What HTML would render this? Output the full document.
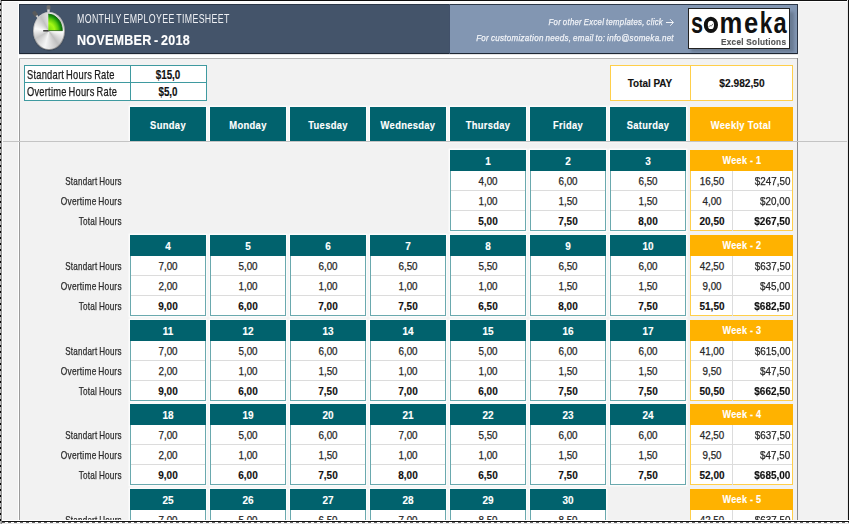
<!DOCTYPE html>
<html><head><meta charset="utf-8"><style>
html,body{margin:0;padding:0;}
body{width:849px;height:524px;overflow:hidden;position:relative;background:#f2f2f2;font-family:"Liberation Sans",sans-serif;}
div{position:absolute;}
.t{white-space:nowrap;line-height:1;}
</style></head><body>
<div style="left:18px;top:2px;width:1px;height:519px;background:#fff"></div>
<div style="left:18px;top:2px;width:781px;height:2px;background:#fafafa"></div>
<div style="left:19px;top:58px;width:1px;height:463px;background:#9a9a9a"></div>
<div style="left:19px;top:58px;width:779px;height:1px;background:#b4b4b4"></div>
<div style="left:19px;top:54px;width:779px;height:4px;background:#fff"></div>
<div style="left:797px;top:58px;width:1px;height:463px;background:#8c8c8c"></div>
<div style="left:19px;top:4px;width:431px;height:50px;background:#44546a"></div>
<div style="left:450px;top:4px;width:348px;height:50px;background:#8296b2"></div>
<div style="left:19px;top:4px;width:779px;height:1px;background:#2c3848"></div>
<div style="left:19px;top:53px;width:779px;height:1px;background:#1d2633"></div>
<div style="left:19px;top:4px;width:1px;height:50px;background:#2c3848"></div>
<div style="left:449px;top:4px;width:1px;height:50px;background:#42516a"></div>
<div style="left:797px;top:4px;width:1px;height:50px;background:#2a3444"></div>
<div style="left:19px;top:54px;width:779px;height:1px;background:#e4e4e4"></div>
<svg style="position:absolute;left:28px;top:4px" width="42" height="48" viewBox="0 0 42 48">
<rect x="18.6" y="1.2" width="3.8" height="5" rx="1.2" fill="#6e6e6e"/>
<rect x="19.3" y="5.5" width="2.4" height="4.5" fill="#d8d8d8"/>
<g transform="rotate(-38 8.5 11.5)"><rect x="6.6" y="6.5" width="3.8" height="5.5" rx="1" fill="#5a5a5a"/><rect x="7.5" y="11.5" width="2" height="3.5" fill="#cfcfcf"/></g>
</svg>
<div style="left:32.5px;top:11.5px;width:32px;height:38.5px;border-radius:50%;background:linear-gradient(160deg,#d4d4d4,#858585);box-shadow:0 0.5px 1px rgba(0,0,0,0.4)"></div>
<div style="left:33.5px;top:12.5px;width:30px;height:36.5px;border-radius:50%;background:conic-gradient(from 10deg,#f2f2f2,#c4c4c4 40deg,#fbfbfb 85deg,#bfbfbf 135deg,#f5f5f5 185deg,#c6c6c6 230deg,#fafafa 270deg,#c2c2c2 320deg,#f2f2f2)"></div>
<svg style="position:absolute;left:28px;top:4px" width="42" height="48" viewBox="0 0 42 48">
<defs>
<radialGradient id="gr" cx="0" cy="1" r="1"><stop offset="0" stop-color="#6fd80e"/><stop offset="0.45" stop-color="#a4f814"/><stop offset="0.72" stop-color="#58c80c"/><stop offset="0.86" stop-color="#1f9a0a"/><stop offset="1" stop-color="#0c6a06"/></radialGradient>
</defs>
<path d="M20.3 26.8 L20.3 10 A14 16.8 0 0 1 34.3 26.8 Z" fill="url(#gr)"/>
<path d="M20.3 10 A14 16.8 0 0 1 34.3 26.8" fill="none" stroke="#0f6a08" stroke-width="0.8"/>
<line x1="15.2" y1="26.8" x2="20.6" y2="26.8" stroke="#333" stroke-width="1.5"/>
<line x1="20.6" y1="26.6" x2="34.3" y2="26.6" stroke="#2a5a20" stroke-width="0.8"/>
</svg>
<div class="t" style="left:77.00px;transform:scaleX(0.7098);transform-origin:left;top:12.70px;font-size:12.4px;font-weight:normal;font-style:normal;color:#eef0f4;-webkit-text-stroke:0.25px #eef0f4;-webkit-text-stroke:0;letter-spacing:0.5px;word-spacing:-1.5px;">MONTHLY EMPLOYEE TIMESHEET</div>
<div class="t" style="left:77.00px;transform:scaleX(0.8101);transform-origin:left;top:31.88px;font-size:15.5px;font-weight:bold;font-style:normal;color:#ffffff;-webkit-text-stroke:0.15px #ffffff;letter-spacing:0.3px;word-spacing:-1.5px;">NOVEMBER - 2018</div>
<div class="t" style="right:186.00px;transform:scaleX(0.8174);transform-origin:right;top:17.46px;font-size:9.5px;font-weight:normal;font-style:italic;color:#f2f4f8;-webkit-text-stroke:0.25px #f2f4f8;letter-spacing:0.35px;word-spacing:-0.8px;">For other Excel templates, click</div>
<svg style="position:absolute;left:665px;top:18px" width="10" height="9" viewBox="0 0 10 9"><path d="M1 4.5 H8.3 M5.2 1.3 L8.4 4.5 L5.2 7.7" fill="none" stroke="#f2f4f8" stroke-width="1"/></svg>
<div class="t" style="right:175.60px;transform:scaleX(0.8417);transform-origin:right;top:33.26px;font-size:9.5px;font-weight:normal;font-style:italic;color:#f2f4f8;-webkit-text-stroke:0.25px #f2f4f8;letter-spacing:0.35px;word-spacing:-0.8px;">For customization needs, email to: info@someka.net</div>
<div style="left:691px;top:12px;width:103px;height:40px;background:rgba(40,50,70,0.28);filter:blur(1.5px)"></div>
<div style="left:688px;top:8px;width:102px;height:41px;background:#fff;border:1px solid #222;box-sizing:border-box"></div>
<div class="t" style="left:696.90px;transform:translateX(-50%) scaleX(0.7329);transform-origin:center;top:7.63px;font-size:29.5px;font-weight:bold;font-style:normal;color:#111;-webkit-text-stroke:0.15px #111;-webkit-text-stroke:0;">s</div>
<div class="t" style="left:731.40px;transform:translateX(-50%) scaleX(0.8684);transform-origin:center;top:7.63px;font-size:29.5px;font-weight:bold;font-style:normal;color:#111;-webkit-text-stroke:0.15px #111;-webkit-text-stroke:0;">m</div>
<div class="t" style="left:751.15px;transform:translateX(-50%) scaleX(0.8673);transform-origin:center;top:7.63px;font-size:29.5px;font-weight:bold;font-style:normal;color:#111;-webkit-text-stroke:0.15px #111;-webkit-text-stroke:0;">e</div>
<div class="t" style="left:766.40px;transform:translateX(-50%) scaleX(0.7627);transform-origin:center;top:7.63px;font-size:29.5px;font-weight:bold;font-style:normal;color:#111;-webkit-text-stroke:0.15px #111;-webkit-text-stroke:0;">k</div>
<div class="t" style="left:780.10px;transform:translateX(-50%) scaleX(0.8040);transform-origin:center;top:7.63px;font-size:29.5px;font-weight:bold;font-style:normal;color:#111;-webkit-text-stroke:0.15px #111;-webkit-text-stroke:0;">a</div>
<svg style="position:absolute;left:702px;top:15px" width="18" height="20" viewBox="0 0 18 20"><ellipse cx="8.9" cy="9.9" rx="5.1" ry="6.2" fill="#fff" stroke="#111" stroke-width="4"/><path d="M6.6 12 L8.2 10.4 L9.2 11.2 L11 8.8" fill="none" stroke="#777" stroke-width="1"/></svg>
<div class="t" style="right:62.70px;transform:scaleX(0.8680);transform-origin:right;top:36.56px;font-size:9.5px;font-weight:bold;font-style:normal;color:#555;-webkit-text-stroke:0.15px #555;letter-spacing:0.3px">Excel Solutions</div>
<div style="left:24px;top:65px;width:183px;height:36px;background:#fff;border:1px solid #3f9aa0;box-sizing:border-box"></div>
<div style="left:24px;top:82px;width:183px;height:1px;background:#3f9aa0"></div>
<div style="left:130px;top:65px;width:1px;height:36px;background:#3f9aa0"></div>
<div class="t" style="left:27.00px;transform:scaleX(0.7644);transform-origin:left;top:68.97px;font-size:12.2px;font-weight:normal;font-style:normal;color:#1a1a1a;-webkit-text-stroke:0.25px #1a1a1a;letter-spacing:0.3px;word-spacing:-1px;">Standart Hours Rate</div>
<div class="t" style="left:27.00px;transform:scaleX(0.7630);transform-origin:left;top:86.27px;font-size:12.2px;font-weight:normal;font-style:normal;color:#1a1a1a;-webkit-text-stroke:0.25px #1a1a1a;letter-spacing:0.3px;word-spacing:-1px;">Overtime Hours Rate</div>
<div class="t" style="left:168.20px;transform:translateX(-50%) scaleX(0.7888);transform-origin:center;top:68.52px;font-size:12.5px;font-weight:bold;font-style:normal;color:#111;-webkit-text-stroke:0.15px #111;">$15,0</div>
<div class="t" style="left:168.20px;transform:translateX(-50%) scaleX(0.7856);transform-origin:center;top:86.02px;font-size:12.5px;font-weight:bold;font-style:normal;color:#111;-webkit-text-stroke:0.15px #111;">$5,0</div>
<div style="left:610px;top:65px;width:183px;height:36px;background:#fff;border:1px solid #ffcf4a;box-sizing:border-box"></div>
<div style="left:690px;top:65px;width:1px;height:36px;background:#ffcf4a"></div>
<div class="t" style="left:650.30px;transform:translateX(-50%) scaleX(0.8628);transform-origin:center;top:77.97px;font-size:11.5px;font-weight:bold;font-style:normal;color:#111;-webkit-text-stroke:0.15px #111;">Total PAY</div>
<div class="t" style="left:741.90px;transform:translateX(-50%) scaleX(0.8852);transform-origin:center;top:77.97px;font-size:11.5px;font-weight:bold;font-style:normal;color:#111;-webkit-text-stroke:0.15px #111;">$2.982,50</div>
<div style="left:130px;top:107px;width:76px;height:34px;background:#01626d;box-shadow:0 0 0 1.5px rgba(255,255,255,0.75)"></div>
<div class="t" style="left:168.00px;transform:translateX(-50%) scaleX(0.8157);transform-origin:center;top:120.47px;font-size:11.5px;font-weight:bold;font-style:normal;color:#fff;-webkit-text-stroke:0.15px #fff;letter-spacing:0.4px;">Sunday</div>
<div style="left:210px;top:107px;width:76px;height:34px;background:#01626d;box-shadow:0 0 0 1.5px rgba(255,255,255,0.75)"></div>
<div class="t" style="left:248.00px;transform:translateX(-50%) scaleX(0.8174);transform-origin:center;top:120.47px;font-size:11.5px;font-weight:bold;font-style:normal;color:#fff;-webkit-text-stroke:0.15px #fff;letter-spacing:0.4px;">Monday</div>
<div style="left:290px;top:107px;width:76px;height:34px;background:#01626d;box-shadow:0 0 0 1.5px rgba(255,255,255,0.75)"></div>
<div class="t" style="left:328.00px;transform:translateX(-50%) scaleX(0.8125);transform-origin:center;top:120.47px;font-size:11.5px;font-weight:bold;font-style:normal;color:#fff;-webkit-text-stroke:0.15px #fff;letter-spacing:0.4px;">Tuesday</div>
<div style="left:370px;top:107px;width:76px;height:34px;background:#01626d;box-shadow:0 0 0 1.5px rgba(255,255,255,0.75)"></div>
<div class="t" style="left:408.00px;transform:translateX(-50%) scaleX(0.8141);transform-origin:center;top:120.47px;font-size:11.5px;font-weight:bold;font-style:normal;color:#fff;-webkit-text-stroke:0.15px #fff;letter-spacing:0.4px;">Wednesday</div>
<div style="left:450px;top:107px;width:76px;height:34px;background:#01626d;box-shadow:0 0 0 1.5px rgba(255,255,255,0.75)"></div>
<div class="t" style="left:488.00px;transform:translateX(-50%) scaleX(0.8111);transform-origin:center;top:120.47px;font-size:11.5px;font-weight:bold;font-style:normal;color:#fff;-webkit-text-stroke:0.15px #fff;letter-spacing:0.4px;">Thursday</div>
<div style="left:530px;top:107px;width:76px;height:34px;background:#01626d;box-shadow:0 0 0 1.5px rgba(255,255,255,0.75)"></div>
<div class="t" style="left:568.00px;transform:translateX(-50%) scaleX(0.8082);transform-origin:center;top:120.47px;font-size:11.5px;font-weight:bold;font-style:normal;color:#fff;-webkit-text-stroke:0.15px #fff;letter-spacing:0.4px;">Friday</div>
<div style="left:610px;top:107px;width:76px;height:34px;background:#01626d;box-shadow:0 0 0 1.5px rgba(255,255,255,0.75)"></div>
<div class="t" style="left:648.00px;transform:translateX(-50%) scaleX(0.8090);transform-origin:center;top:120.47px;font-size:11.5px;font-weight:bold;font-style:normal;color:#fff;-webkit-text-stroke:0.15px #fff;letter-spacing:0.4px;">Saturday</div>
<div style="left:690px;top:107px;width:103px;height:34px;background:#ffb200"></div>
<div class="t" style="left:741.40px;transform:translateX(-50%) scaleX(0.8149);transform-origin:center;top:120.47px;font-size:11.5px;font-weight:bold;font-style:normal;color:#fff;-webkit-text-stroke:0.15px #fff;letter-spacing:0.4px;">Weekly Total</div>
<div class="t" style="right:726.80px;transform:scaleX(0.7467);transform-origin:right;top:175.86px;font-size:10.8px;font-weight:normal;font-style:normal;color:#2a2a2a;-webkit-text-stroke:0.25px #2a2a2a;letter-spacing:0.3px;word-spacing:-1px;">Standart Hours</div>
<div class="t" style="right:726.80px;transform:scaleX(0.7745);transform-origin:right;top:195.86px;font-size:10.8px;font-weight:normal;font-style:normal;color:#2a2a2a;-webkit-text-stroke:0.25px #2a2a2a;letter-spacing:0.3px;word-spacing:-1px;">Overtime Hours</div>
<div class="t" style="right:726.80px;transform:scaleX(0.7591);transform-origin:right;top:215.86px;font-size:10.8px;font-weight:normal;font-style:normal;color:#2a2a2a;-webkit-text-stroke:0.25px #2a2a2a;letter-spacing:0.3px;word-spacing:-1px;">Total Hours</div>
<div style="left:450px;top:150px;width:76px;height:81px;background:#fff;box-shadow:0 0 0 1.5px rgba(255,255,255,0.75)"></div>
<div style="left:450px;top:150px;width:76px;height:21px;background:#01626d"></div>
<div style="left:450px;top:171px;width:76px;height:60px;background:#fff;border:1px solid #6aa9ae;border-top:0;box-sizing:border-box"></div>
<div style="left:451px;top:190px;width:74px;height:1px;background:#dcdcdc"></div>
<div style="left:451px;top:210px;width:74px;height:1px;background:#dcdcdc"></div>
<div class="t" style="left:488.00px;transform:translateX(-50%) scaleX(0.8900);transform-origin:center;top:155.52px;font-size:11.2px;font-weight:bold;font-style:normal;color:#fff;-webkit-text-stroke:0.15px #fff;">1</div>
<div class="t" style="left:488.00px;transform:translateX(-50%) scaleX(0.8800);transform-origin:center;top:175.52px;font-size:11.2px;font-weight:normal;font-style:normal;color:#262626;-webkit-text-stroke:0.25px #262626;">4,00</div>
<div class="t" style="left:488.00px;transform:translateX(-50%) scaleX(0.8800);transform-origin:center;top:195.52px;font-size:11.2px;font-weight:normal;font-style:normal;color:#262626;-webkit-text-stroke:0.25px #262626;">1,00</div>
<div class="t" style="left:488.00px;transform:translateX(-50%) scaleX(0.8950);transform-origin:center;top:215.52px;font-size:11.2px;font-weight:bold;font-style:normal;color:#111;-webkit-text-stroke:0.15px #111;">5,00</div>
<div style="left:530px;top:150px;width:76px;height:81px;background:#fff;box-shadow:0 0 0 1.5px rgba(255,255,255,0.75)"></div>
<div style="left:530px;top:150px;width:76px;height:21px;background:#01626d"></div>
<div style="left:530px;top:171px;width:76px;height:60px;background:#fff;border:1px solid #6aa9ae;border-top:0;box-sizing:border-box"></div>
<div style="left:531px;top:190px;width:74px;height:1px;background:#dcdcdc"></div>
<div style="left:531px;top:210px;width:74px;height:1px;background:#dcdcdc"></div>
<div class="t" style="left:568.00px;transform:translateX(-50%) scaleX(0.8900);transform-origin:center;top:155.52px;font-size:11.2px;font-weight:bold;font-style:normal;color:#fff;-webkit-text-stroke:0.15px #fff;">2</div>
<div class="t" style="left:568.00px;transform:translateX(-50%) scaleX(0.8800);transform-origin:center;top:175.52px;font-size:11.2px;font-weight:normal;font-style:normal;color:#262626;-webkit-text-stroke:0.25px #262626;">6,00</div>
<div class="t" style="left:568.00px;transform:translateX(-50%) scaleX(0.8800);transform-origin:center;top:195.52px;font-size:11.2px;font-weight:normal;font-style:normal;color:#262626;-webkit-text-stroke:0.25px #262626;">1,50</div>
<div class="t" style="left:568.00px;transform:translateX(-50%) scaleX(0.8950);transform-origin:center;top:215.52px;font-size:11.2px;font-weight:bold;font-style:normal;color:#111;-webkit-text-stroke:0.15px #111;">7,50</div>
<div style="left:610px;top:150px;width:76px;height:81px;background:#fff;box-shadow:0 0 0 1.5px rgba(255,255,255,0.75)"></div>
<div style="left:610px;top:150px;width:76px;height:21px;background:#01626d"></div>
<div style="left:610px;top:171px;width:76px;height:60px;background:#fff;border:1px solid #6aa9ae;border-top:0;box-sizing:border-box"></div>
<div style="left:611px;top:190px;width:74px;height:1px;background:#dcdcdc"></div>
<div style="left:611px;top:210px;width:74px;height:1px;background:#dcdcdc"></div>
<div class="t" style="left:648.00px;transform:translateX(-50%) scaleX(0.8900);transform-origin:center;top:155.52px;font-size:11.2px;font-weight:bold;font-style:normal;color:#fff;-webkit-text-stroke:0.15px #fff;">3</div>
<div class="t" style="left:648.00px;transform:translateX(-50%) scaleX(0.8800);transform-origin:center;top:175.52px;font-size:11.2px;font-weight:normal;font-style:normal;color:#262626;-webkit-text-stroke:0.25px #262626;">6,50</div>
<div class="t" style="left:648.00px;transform:translateX(-50%) scaleX(0.8800);transform-origin:center;top:195.52px;font-size:11.2px;font-weight:normal;font-style:normal;color:#262626;-webkit-text-stroke:0.25px #262626;">1,50</div>
<div class="t" style="left:648.00px;transform:translateX(-50%) scaleX(0.8950);transform-origin:center;top:215.52px;font-size:11.2px;font-weight:bold;font-style:normal;color:#111;-webkit-text-stroke:0.15px #111;">8,00</div>
<div style="left:690px;top:150px;width:103px;height:21px;background:#ffb200"></div>
<div style="left:690px;top:171px;width:103px;height:60px;background:#fff;border:1px solid #ffcf4a;border-top:0;box-sizing:border-box"></div>
<div style="left:691px;top:190px;width:101px;height:1px;background:#dcdcdc"></div>
<div style="left:691px;top:210px;width:101px;height:1px;background:#dcdcdc"></div>
<div style="left:732px;top:171px;width:1px;height:60px;background:#dcdcdc"></div>
<div class="t" style="left:741.70px;transform:translateX(-50%) scaleX(0.8152);transform-origin:center;top:154.82px;font-size:11.2px;font-weight:bold;font-style:normal;color:#fff;-webkit-text-stroke:0.15px #fff;letter-spacing:0.3px;">Week - 1</div>
<div class="t" style="left:711.50px;transform:translateX(-50%) scaleX(0.8800);transform-origin:center;top:175.52px;font-size:11.2px;font-weight:normal;font-style:normal;color:#262626;-webkit-text-stroke:0.25px #262626;">16,50</div>
<div class="t" style="right:58.70px;transform:scaleX(0.8800);transform-origin:right;top:175.52px;font-size:11.2px;font-weight:normal;font-style:normal;color:#262626;-webkit-text-stroke:0.25px #262626;">$247,50</div>
<div class="t" style="left:711.50px;transform:translateX(-50%) scaleX(0.8800);transform-origin:center;top:195.52px;font-size:11.2px;font-weight:normal;font-style:normal;color:#262626;-webkit-text-stroke:0.25px #262626;">4,00</div>
<div class="t" style="right:58.70px;transform:scaleX(0.8800);transform-origin:right;top:195.52px;font-size:11.2px;font-weight:normal;font-style:normal;color:#262626;-webkit-text-stroke:0.25px #262626;">$20,00</div>
<div class="t" style="left:711.50px;transform:translateX(-50%) scaleX(0.8950);transform-origin:center;top:215.52px;font-size:11.2px;font-weight:bold;font-style:normal;color:#111;-webkit-text-stroke:0.15px #111;">20,50</div>
<div class="t" style="right:58.70px;transform:scaleX(0.8950);transform-origin:right;top:215.52px;font-size:11.2px;font-weight:bold;font-style:normal;color:#111;-webkit-text-stroke:0.15px #111;">$267,50</div>
<div class="t" style="right:726.80px;transform:scaleX(0.7467);transform-origin:right;top:260.86px;font-size:10.8px;font-weight:normal;font-style:normal;color:#2a2a2a;-webkit-text-stroke:0.25px #2a2a2a;letter-spacing:0.3px;word-spacing:-1px;">Standart Hours</div>
<div class="t" style="right:726.80px;transform:scaleX(0.7745);transform-origin:right;top:280.86px;font-size:10.8px;font-weight:normal;font-style:normal;color:#2a2a2a;-webkit-text-stroke:0.25px #2a2a2a;letter-spacing:0.3px;word-spacing:-1px;">Overtime Hours</div>
<div class="t" style="right:726.80px;transform:scaleX(0.7591);transform-origin:right;top:300.86px;font-size:10.8px;font-weight:normal;font-style:normal;color:#2a2a2a;-webkit-text-stroke:0.25px #2a2a2a;letter-spacing:0.3px;word-spacing:-1px;">Total Hours</div>
<div style="left:130px;top:235px;width:76px;height:81px;background:#fff;box-shadow:0 0 0 1.5px rgba(255,255,255,0.75)"></div>
<div style="left:130px;top:235px;width:76px;height:21px;background:#01626d"></div>
<div style="left:130px;top:256px;width:76px;height:60px;background:#fff;border:1px solid #6aa9ae;border-top:0;box-sizing:border-box"></div>
<div style="left:131px;top:275px;width:74px;height:1px;background:#dcdcdc"></div>
<div style="left:131px;top:295px;width:74px;height:1px;background:#dcdcdc"></div>
<div class="t" style="left:168.00px;transform:translateX(-50%) scaleX(0.8900);transform-origin:center;top:240.52px;font-size:11.2px;font-weight:bold;font-style:normal;color:#fff;-webkit-text-stroke:0.15px #fff;">4</div>
<div class="t" style="left:168.00px;transform:translateX(-50%) scaleX(0.8800);transform-origin:center;top:260.52px;font-size:11.2px;font-weight:normal;font-style:normal;color:#262626;-webkit-text-stroke:0.25px #262626;">7,00</div>
<div class="t" style="left:168.00px;transform:translateX(-50%) scaleX(0.8800);transform-origin:center;top:280.52px;font-size:11.2px;font-weight:normal;font-style:normal;color:#262626;-webkit-text-stroke:0.25px #262626;">2,00</div>
<div class="t" style="left:168.00px;transform:translateX(-50%) scaleX(0.8950);transform-origin:center;top:300.52px;font-size:11.2px;font-weight:bold;font-style:normal;color:#111;-webkit-text-stroke:0.15px #111;">9,00</div>
<div style="left:210px;top:235px;width:76px;height:81px;background:#fff;box-shadow:0 0 0 1.5px rgba(255,255,255,0.75)"></div>
<div style="left:210px;top:235px;width:76px;height:21px;background:#01626d"></div>
<div style="left:210px;top:256px;width:76px;height:60px;background:#fff;border:1px solid #6aa9ae;border-top:0;box-sizing:border-box"></div>
<div style="left:211px;top:275px;width:74px;height:1px;background:#dcdcdc"></div>
<div style="left:211px;top:295px;width:74px;height:1px;background:#dcdcdc"></div>
<div class="t" style="left:248.00px;transform:translateX(-50%) scaleX(0.8900);transform-origin:center;top:240.52px;font-size:11.2px;font-weight:bold;font-style:normal;color:#fff;-webkit-text-stroke:0.15px #fff;">5</div>
<div class="t" style="left:248.00px;transform:translateX(-50%) scaleX(0.8800);transform-origin:center;top:260.52px;font-size:11.2px;font-weight:normal;font-style:normal;color:#262626;-webkit-text-stroke:0.25px #262626;">5,00</div>
<div class="t" style="left:248.00px;transform:translateX(-50%) scaleX(0.8800);transform-origin:center;top:280.52px;font-size:11.2px;font-weight:normal;font-style:normal;color:#262626;-webkit-text-stroke:0.25px #262626;">1,00</div>
<div class="t" style="left:248.00px;transform:translateX(-50%) scaleX(0.8950);transform-origin:center;top:300.52px;font-size:11.2px;font-weight:bold;font-style:normal;color:#111;-webkit-text-stroke:0.15px #111;">6,00</div>
<div style="left:290px;top:235px;width:76px;height:81px;background:#fff;box-shadow:0 0 0 1.5px rgba(255,255,255,0.75)"></div>
<div style="left:290px;top:235px;width:76px;height:21px;background:#01626d"></div>
<div style="left:290px;top:256px;width:76px;height:60px;background:#fff;border:1px solid #6aa9ae;border-top:0;box-sizing:border-box"></div>
<div style="left:291px;top:275px;width:74px;height:1px;background:#dcdcdc"></div>
<div style="left:291px;top:295px;width:74px;height:1px;background:#dcdcdc"></div>
<div class="t" style="left:328.00px;transform:translateX(-50%) scaleX(0.8900);transform-origin:center;top:240.52px;font-size:11.2px;font-weight:bold;font-style:normal;color:#fff;-webkit-text-stroke:0.15px #fff;">6</div>
<div class="t" style="left:328.00px;transform:translateX(-50%) scaleX(0.8800);transform-origin:center;top:260.52px;font-size:11.2px;font-weight:normal;font-style:normal;color:#262626;-webkit-text-stroke:0.25px #262626;">6,00</div>
<div class="t" style="left:328.00px;transform:translateX(-50%) scaleX(0.8800);transform-origin:center;top:280.52px;font-size:11.2px;font-weight:normal;font-style:normal;color:#262626;-webkit-text-stroke:0.25px #262626;">1,00</div>
<div class="t" style="left:328.00px;transform:translateX(-50%) scaleX(0.8950);transform-origin:center;top:300.52px;font-size:11.2px;font-weight:bold;font-style:normal;color:#111;-webkit-text-stroke:0.15px #111;">7,00</div>
<div style="left:370px;top:235px;width:76px;height:81px;background:#fff;box-shadow:0 0 0 1.5px rgba(255,255,255,0.75)"></div>
<div style="left:370px;top:235px;width:76px;height:21px;background:#01626d"></div>
<div style="left:370px;top:256px;width:76px;height:60px;background:#fff;border:1px solid #6aa9ae;border-top:0;box-sizing:border-box"></div>
<div style="left:371px;top:275px;width:74px;height:1px;background:#dcdcdc"></div>
<div style="left:371px;top:295px;width:74px;height:1px;background:#dcdcdc"></div>
<div class="t" style="left:408.00px;transform:translateX(-50%) scaleX(0.8900);transform-origin:center;top:240.52px;font-size:11.2px;font-weight:bold;font-style:normal;color:#fff;-webkit-text-stroke:0.15px #fff;">7</div>
<div class="t" style="left:408.00px;transform:translateX(-50%) scaleX(0.8800);transform-origin:center;top:260.52px;font-size:11.2px;font-weight:normal;font-style:normal;color:#262626;-webkit-text-stroke:0.25px #262626;">6,50</div>
<div class="t" style="left:408.00px;transform:translateX(-50%) scaleX(0.8800);transform-origin:center;top:280.52px;font-size:11.2px;font-weight:normal;font-style:normal;color:#262626;-webkit-text-stroke:0.25px #262626;">1,00</div>
<div class="t" style="left:408.00px;transform:translateX(-50%) scaleX(0.8950);transform-origin:center;top:300.52px;font-size:11.2px;font-weight:bold;font-style:normal;color:#111;-webkit-text-stroke:0.15px #111;">7,50</div>
<div style="left:450px;top:235px;width:76px;height:81px;background:#fff;box-shadow:0 0 0 1.5px rgba(255,255,255,0.75)"></div>
<div style="left:450px;top:235px;width:76px;height:21px;background:#01626d"></div>
<div style="left:450px;top:256px;width:76px;height:60px;background:#fff;border:1px solid #6aa9ae;border-top:0;box-sizing:border-box"></div>
<div style="left:451px;top:275px;width:74px;height:1px;background:#dcdcdc"></div>
<div style="left:451px;top:295px;width:74px;height:1px;background:#dcdcdc"></div>
<div class="t" style="left:488.00px;transform:translateX(-50%) scaleX(0.8900);transform-origin:center;top:240.52px;font-size:11.2px;font-weight:bold;font-style:normal;color:#fff;-webkit-text-stroke:0.15px #fff;">8</div>
<div class="t" style="left:488.00px;transform:translateX(-50%) scaleX(0.8800);transform-origin:center;top:260.52px;font-size:11.2px;font-weight:normal;font-style:normal;color:#262626;-webkit-text-stroke:0.25px #262626;">5,50</div>
<div class="t" style="left:488.00px;transform:translateX(-50%) scaleX(0.8800);transform-origin:center;top:280.52px;font-size:11.2px;font-weight:normal;font-style:normal;color:#262626;-webkit-text-stroke:0.25px #262626;">1,00</div>
<div class="t" style="left:488.00px;transform:translateX(-50%) scaleX(0.8950);transform-origin:center;top:300.52px;font-size:11.2px;font-weight:bold;font-style:normal;color:#111;-webkit-text-stroke:0.15px #111;">6,50</div>
<div style="left:530px;top:235px;width:76px;height:81px;background:#fff;box-shadow:0 0 0 1.5px rgba(255,255,255,0.75)"></div>
<div style="left:530px;top:235px;width:76px;height:21px;background:#01626d"></div>
<div style="left:530px;top:256px;width:76px;height:60px;background:#fff;border:1px solid #6aa9ae;border-top:0;box-sizing:border-box"></div>
<div style="left:531px;top:275px;width:74px;height:1px;background:#dcdcdc"></div>
<div style="left:531px;top:295px;width:74px;height:1px;background:#dcdcdc"></div>
<div class="t" style="left:568.00px;transform:translateX(-50%) scaleX(0.8900);transform-origin:center;top:240.52px;font-size:11.2px;font-weight:bold;font-style:normal;color:#fff;-webkit-text-stroke:0.15px #fff;">9</div>
<div class="t" style="left:568.00px;transform:translateX(-50%) scaleX(0.8800);transform-origin:center;top:260.52px;font-size:11.2px;font-weight:normal;font-style:normal;color:#262626;-webkit-text-stroke:0.25px #262626;">6,50</div>
<div class="t" style="left:568.00px;transform:translateX(-50%) scaleX(0.8800);transform-origin:center;top:280.52px;font-size:11.2px;font-weight:normal;font-style:normal;color:#262626;-webkit-text-stroke:0.25px #262626;">1,50</div>
<div class="t" style="left:568.00px;transform:translateX(-50%) scaleX(0.8950);transform-origin:center;top:300.52px;font-size:11.2px;font-weight:bold;font-style:normal;color:#111;-webkit-text-stroke:0.15px #111;">8,00</div>
<div style="left:610px;top:235px;width:76px;height:81px;background:#fff;box-shadow:0 0 0 1.5px rgba(255,255,255,0.75)"></div>
<div style="left:610px;top:235px;width:76px;height:21px;background:#01626d"></div>
<div style="left:610px;top:256px;width:76px;height:60px;background:#fff;border:1px solid #6aa9ae;border-top:0;box-sizing:border-box"></div>
<div style="left:611px;top:275px;width:74px;height:1px;background:#dcdcdc"></div>
<div style="left:611px;top:295px;width:74px;height:1px;background:#dcdcdc"></div>
<div class="t" style="left:648.00px;transform:translateX(-50%) scaleX(0.8900);transform-origin:center;top:240.52px;font-size:11.2px;font-weight:bold;font-style:normal;color:#fff;-webkit-text-stroke:0.15px #fff;">10</div>
<div class="t" style="left:648.00px;transform:translateX(-50%) scaleX(0.8800);transform-origin:center;top:260.52px;font-size:11.2px;font-weight:normal;font-style:normal;color:#262626;-webkit-text-stroke:0.25px #262626;">6,00</div>
<div class="t" style="left:648.00px;transform:translateX(-50%) scaleX(0.8800);transform-origin:center;top:280.52px;font-size:11.2px;font-weight:normal;font-style:normal;color:#262626;-webkit-text-stroke:0.25px #262626;">1,50</div>
<div class="t" style="left:648.00px;transform:translateX(-50%) scaleX(0.8950);transform-origin:center;top:300.52px;font-size:11.2px;font-weight:bold;font-style:normal;color:#111;-webkit-text-stroke:0.15px #111;">7,50</div>
<div style="left:690px;top:235px;width:103px;height:21px;background:#ffb200"></div>
<div style="left:690px;top:256px;width:103px;height:60px;background:#fff;border:1px solid #ffcf4a;border-top:0;box-sizing:border-box"></div>
<div style="left:691px;top:275px;width:101px;height:1px;background:#dcdcdc"></div>
<div style="left:691px;top:295px;width:101px;height:1px;background:#dcdcdc"></div>
<div style="left:732px;top:256px;width:1px;height:60px;background:#dcdcdc"></div>
<div class="t" style="left:741.70px;transform:translateX(-50%) scaleX(0.8152);transform-origin:center;top:239.82px;font-size:11.2px;font-weight:bold;font-style:normal;color:#fff;-webkit-text-stroke:0.15px #fff;letter-spacing:0.3px;">Week - 2</div>
<div class="t" style="left:711.50px;transform:translateX(-50%) scaleX(0.8800);transform-origin:center;top:260.52px;font-size:11.2px;font-weight:normal;font-style:normal;color:#262626;-webkit-text-stroke:0.25px #262626;">42,50</div>
<div class="t" style="right:58.70px;transform:scaleX(0.8800);transform-origin:right;top:260.52px;font-size:11.2px;font-weight:normal;font-style:normal;color:#262626;-webkit-text-stroke:0.25px #262626;">$637,50</div>
<div class="t" style="left:711.50px;transform:translateX(-50%) scaleX(0.8800);transform-origin:center;top:280.52px;font-size:11.2px;font-weight:normal;font-style:normal;color:#262626;-webkit-text-stroke:0.25px #262626;">9,00</div>
<div class="t" style="right:58.70px;transform:scaleX(0.8800);transform-origin:right;top:280.52px;font-size:11.2px;font-weight:normal;font-style:normal;color:#262626;-webkit-text-stroke:0.25px #262626;">$45,00</div>
<div class="t" style="left:711.50px;transform:translateX(-50%) scaleX(0.8950);transform-origin:center;top:300.52px;font-size:11.2px;font-weight:bold;font-style:normal;color:#111;-webkit-text-stroke:0.15px #111;">51,50</div>
<div class="t" style="right:58.70px;transform:scaleX(0.8950);transform-origin:right;top:300.52px;font-size:11.2px;font-weight:bold;font-style:normal;color:#111;-webkit-text-stroke:0.15px #111;">$682,50</div>
<div class="t" style="right:726.80px;transform:scaleX(0.7467);transform-origin:right;top:345.86px;font-size:10.8px;font-weight:normal;font-style:normal;color:#2a2a2a;-webkit-text-stroke:0.25px #2a2a2a;letter-spacing:0.3px;word-spacing:-1px;">Standart Hours</div>
<div class="t" style="right:726.80px;transform:scaleX(0.7745);transform-origin:right;top:365.86px;font-size:10.8px;font-weight:normal;font-style:normal;color:#2a2a2a;-webkit-text-stroke:0.25px #2a2a2a;letter-spacing:0.3px;word-spacing:-1px;">Overtime Hours</div>
<div class="t" style="right:726.80px;transform:scaleX(0.7591);transform-origin:right;top:385.86px;font-size:10.8px;font-weight:normal;font-style:normal;color:#2a2a2a;-webkit-text-stroke:0.25px #2a2a2a;letter-spacing:0.3px;word-spacing:-1px;">Total Hours</div>
<div style="left:130px;top:320px;width:76px;height:81px;background:#fff;box-shadow:0 0 0 1.5px rgba(255,255,255,0.75)"></div>
<div style="left:130px;top:320px;width:76px;height:21px;background:#01626d"></div>
<div style="left:130px;top:341px;width:76px;height:60px;background:#fff;border:1px solid #6aa9ae;border-top:0;box-sizing:border-box"></div>
<div style="left:131px;top:360px;width:74px;height:1px;background:#dcdcdc"></div>
<div style="left:131px;top:380px;width:74px;height:1px;background:#dcdcdc"></div>
<div class="t" style="left:168.00px;transform:translateX(-50%) scaleX(0.8900);transform-origin:center;top:325.52px;font-size:11.2px;font-weight:bold;font-style:normal;color:#fff;-webkit-text-stroke:0.15px #fff;">11</div>
<div class="t" style="left:168.00px;transform:translateX(-50%) scaleX(0.8800);transform-origin:center;top:345.52px;font-size:11.2px;font-weight:normal;font-style:normal;color:#262626;-webkit-text-stroke:0.25px #262626;">7,00</div>
<div class="t" style="left:168.00px;transform:translateX(-50%) scaleX(0.8800);transform-origin:center;top:365.52px;font-size:11.2px;font-weight:normal;font-style:normal;color:#262626;-webkit-text-stroke:0.25px #262626;">2,00</div>
<div class="t" style="left:168.00px;transform:translateX(-50%) scaleX(0.8950);transform-origin:center;top:385.52px;font-size:11.2px;font-weight:bold;font-style:normal;color:#111;-webkit-text-stroke:0.15px #111;">9,00</div>
<div style="left:210px;top:320px;width:76px;height:81px;background:#fff;box-shadow:0 0 0 1.5px rgba(255,255,255,0.75)"></div>
<div style="left:210px;top:320px;width:76px;height:21px;background:#01626d"></div>
<div style="left:210px;top:341px;width:76px;height:60px;background:#fff;border:1px solid #6aa9ae;border-top:0;box-sizing:border-box"></div>
<div style="left:211px;top:360px;width:74px;height:1px;background:#dcdcdc"></div>
<div style="left:211px;top:380px;width:74px;height:1px;background:#dcdcdc"></div>
<div class="t" style="left:248.00px;transform:translateX(-50%) scaleX(0.8900);transform-origin:center;top:325.52px;font-size:11.2px;font-weight:bold;font-style:normal;color:#fff;-webkit-text-stroke:0.15px #fff;">12</div>
<div class="t" style="left:248.00px;transform:translateX(-50%) scaleX(0.8800);transform-origin:center;top:345.52px;font-size:11.2px;font-weight:normal;font-style:normal;color:#262626;-webkit-text-stroke:0.25px #262626;">5,00</div>
<div class="t" style="left:248.00px;transform:translateX(-50%) scaleX(0.8800);transform-origin:center;top:365.52px;font-size:11.2px;font-weight:normal;font-style:normal;color:#262626;-webkit-text-stroke:0.25px #262626;">1,00</div>
<div class="t" style="left:248.00px;transform:translateX(-50%) scaleX(0.8950);transform-origin:center;top:385.52px;font-size:11.2px;font-weight:bold;font-style:normal;color:#111;-webkit-text-stroke:0.15px #111;">6,00</div>
<div style="left:290px;top:320px;width:76px;height:81px;background:#fff;box-shadow:0 0 0 1.5px rgba(255,255,255,0.75)"></div>
<div style="left:290px;top:320px;width:76px;height:21px;background:#01626d"></div>
<div style="left:290px;top:341px;width:76px;height:60px;background:#fff;border:1px solid #6aa9ae;border-top:0;box-sizing:border-box"></div>
<div style="left:291px;top:360px;width:74px;height:1px;background:#dcdcdc"></div>
<div style="left:291px;top:380px;width:74px;height:1px;background:#dcdcdc"></div>
<div class="t" style="left:328.00px;transform:translateX(-50%) scaleX(0.8900);transform-origin:center;top:325.52px;font-size:11.2px;font-weight:bold;font-style:normal;color:#fff;-webkit-text-stroke:0.15px #fff;">13</div>
<div class="t" style="left:328.00px;transform:translateX(-50%) scaleX(0.8800);transform-origin:center;top:345.52px;font-size:11.2px;font-weight:normal;font-style:normal;color:#262626;-webkit-text-stroke:0.25px #262626;">6,00</div>
<div class="t" style="left:328.00px;transform:translateX(-50%) scaleX(0.8800);transform-origin:center;top:365.52px;font-size:11.2px;font-weight:normal;font-style:normal;color:#262626;-webkit-text-stroke:0.25px #262626;">1,50</div>
<div class="t" style="left:328.00px;transform:translateX(-50%) scaleX(0.8950);transform-origin:center;top:385.52px;font-size:11.2px;font-weight:bold;font-style:normal;color:#111;-webkit-text-stroke:0.15px #111;">7,50</div>
<div style="left:370px;top:320px;width:76px;height:81px;background:#fff;box-shadow:0 0 0 1.5px rgba(255,255,255,0.75)"></div>
<div style="left:370px;top:320px;width:76px;height:21px;background:#01626d"></div>
<div style="left:370px;top:341px;width:76px;height:60px;background:#fff;border:1px solid #6aa9ae;border-top:0;box-sizing:border-box"></div>
<div style="left:371px;top:360px;width:74px;height:1px;background:#dcdcdc"></div>
<div style="left:371px;top:380px;width:74px;height:1px;background:#dcdcdc"></div>
<div class="t" style="left:408.00px;transform:translateX(-50%) scaleX(0.8900);transform-origin:center;top:325.52px;font-size:11.2px;font-weight:bold;font-style:normal;color:#fff;-webkit-text-stroke:0.15px #fff;">14</div>
<div class="t" style="left:408.00px;transform:translateX(-50%) scaleX(0.8800);transform-origin:center;top:345.52px;font-size:11.2px;font-weight:normal;font-style:normal;color:#262626;-webkit-text-stroke:0.25px #262626;">6,00</div>
<div class="t" style="left:408.00px;transform:translateX(-50%) scaleX(0.8800);transform-origin:center;top:365.52px;font-size:11.2px;font-weight:normal;font-style:normal;color:#262626;-webkit-text-stroke:0.25px #262626;">1,00</div>
<div class="t" style="left:408.00px;transform:translateX(-50%) scaleX(0.8950);transform-origin:center;top:385.52px;font-size:11.2px;font-weight:bold;font-style:normal;color:#111;-webkit-text-stroke:0.15px #111;">7,00</div>
<div style="left:450px;top:320px;width:76px;height:81px;background:#fff;box-shadow:0 0 0 1.5px rgba(255,255,255,0.75)"></div>
<div style="left:450px;top:320px;width:76px;height:21px;background:#01626d"></div>
<div style="left:450px;top:341px;width:76px;height:60px;background:#fff;border:1px solid #6aa9ae;border-top:0;box-sizing:border-box"></div>
<div style="left:451px;top:360px;width:74px;height:1px;background:#dcdcdc"></div>
<div style="left:451px;top:380px;width:74px;height:1px;background:#dcdcdc"></div>
<div class="t" style="left:488.00px;transform:translateX(-50%) scaleX(0.8900);transform-origin:center;top:325.52px;font-size:11.2px;font-weight:bold;font-style:normal;color:#fff;-webkit-text-stroke:0.15px #fff;">15</div>
<div class="t" style="left:488.00px;transform:translateX(-50%) scaleX(0.8800);transform-origin:center;top:345.52px;font-size:11.2px;font-weight:normal;font-style:normal;color:#262626;-webkit-text-stroke:0.25px #262626;">5,00</div>
<div class="t" style="left:488.00px;transform:translateX(-50%) scaleX(0.8800);transform-origin:center;top:365.52px;font-size:11.2px;font-weight:normal;font-style:normal;color:#262626;-webkit-text-stroke:0.25px #262626;">1,00</div>
<div class="t" style="left:488.00px;transform:translateX(-50%) scaleX(0.8950);transform-origin:center;top:385.52px;font-size:11.2px;font-weight:bold;font-style:normal;color:#111;-webkit-text-stroke:0.15px #111;">6,00</div>
<div style="left:530px;top:320px;width:76px;height:81px;background:#fff;box-shadow:0 0 0 1.5px rgba(255,255,255,0.75)"></div>
<div style="left:530px;top:320px;width:76px;height:21px;background:#01626d"></div>
<div style="left:530px;top:341px;width:76px;height:60px;background:#fff;border:1px solid #6aa9ae;border-top:0;box-sizing:border-box"></div>
<div style="left:531px;top:360px;width:74px;height:1px;background:#dcdcdc"></div>
<div style="left:531px;top:380px;width:74px;height:1px;background:#dcdcdc"></div>
<div class="t" style="left:568.00px;transform:translateX(-50%) scaleX(0.8900);transform-origin:center;top:325.52px;font-size:11.2px;font-weight:bold;font-style:normal;color:#fff;-webkit-text-stroke:0.15px #fff;">16</div>
<div class="t" style="left:568.00px;transform:translateX(-50%) scaleX(0.8800);transform-origin:center;top:345.52px;font-size:11.2px;font-weight:normal;font-style:normal;color:#262626;-webkit-text-stroke:0.25px #262626;">6,00</div>
<div class="t" style="left:568.00px;transform:translateX(-50%) scaleX(0.8800);transform-origin:center;top:365.52px;font-size:11.2px;font-weight:normal;font-style:normal;color:#262626;-webkit-text-stroke:0.25px #262626;">1,50</div>
<div class="t" style="left:568.00px;transform:translateX(-50%) scaleX(0.8950);transform-origin:center;top:385.52px;font-size:11.2px;font-weight:bold;font-style:normal;color:#111;-webkit-text-stroke:0.15px #111;">7,50</div>
<div style="left:610px;top:320px;width:76px;height:81px;background:#fff;box-shadow:0 0 0 1.5px rgba(255,255,255,0.75)"></div>
<div style="left:610px;top:320px;width:76px;height:21px;background:#01626d"></div>
<div style="left:610px;top:341px;width:76px;height:60px;background:#fff;border:1px solid #6aa9ae;border-top:0;box-sizing:border-box"></div>
<div style="left:611px;top:360px;width:74px;height:1px;background:#dcdcdc"></div>
<div style="left:611px;top:380px;width:74px;height:1px;background:#dcdcdc"></div>
<div class="t" style="left:648.00px;transform:translateX(-50%) scaleX(0.8900);transform-origin:center;top:325.52px;font-size:11.2px;font-weight:bold;font-style:normal;color:#fff;-webkit-text-stroke:0.15px #fff;">17</div>
<div class="t" style="left:648.00px;transform:translateX(-50%) scaleX(0.8800);transform-origin:center;top:345.52px;font-size:11.2px;font-weight:normal;font-style:normal;color:#262626;-webkit-text-stroke:0.25px #262626;">6,00</div>
<div class="t" style="left:648.00px;transform:translateX(-50%) scaleX(0.8800);transform-origin:center;top:365.52px;font-size:11.2px;font-weight:normal;font-style:normal;color:#262626;-webkit-text-stroke:0.25px #262626;">1,50</div>
<div class="t" style="left:648.00px;transform:translateX(-50%) scaleX(0.8950);transform-origin:center;top:385.52px;font-size:11.2px;font-weight:bold;font-style:normal;color:#111;-webkit-text-stroke:0.15px #111;">7,50</div>
<div style="left:690px;top:320px;width:103px;height:21px;background:#ffb200"></div>
<div style="left:690px;top:341px;width:103px;height:60px;background:#fff;border:1px solid #ffcf4a;border-top:0;box-sizing:border-box"></div>
<div style="left:691px;top:360px;width:101px;height:1px;background:#dcdcdc"></div>
<div style="left:691px;top:380px;width:101px;height:1px;background:#dcdcdc"></div>
<div style="left:732px;top:341px;width:1px;height:60px;background:#dcdcdc"></div>
<div class="t" style="left:741.70px;transform:translateX(-50%) scaleX(0.8152);transform-origin:center;top:324.82px;font-size:11.2px;font-weight:bold;font-style:normal;color:#fff;-webkit-text-stroke:0.15px #fff;letter-spacing:0.3px;">Week - 3</div>
<div class="t" style="left:711.50px;transform:translateX(-50%) scaleX(0.8800);transform-origin:center;top:345.52px;font-size:11.2px;font-weight:normal;font-style:normal;color:#262626;-webkit-text-stroke:0.25px #262626;">41,00</div>
<div class="t" style="right:58.70px;transform:scaleX(0.8800);transform-origin:right;top:345.52px;font-size:11.2px;font-weight:normal;font-style:normal;color:#262626;-webkit-text-stroke:0.25px #262626;">$615,00</div>
<div class="t" style="left:711.50px;transform:translateX(-50%) scaleX(0.8800);transform-origin:center;top:365.52px;font-size:11.2px;font-weight:normal;font-style:normal;color:#262626;-webkit-text-stroke:0.25px #262626;">9,50</div>
<div class="t" style="right:58.70px;transform:scaleX(0.8800);transform-origin:right;top:365.52px;font-size:11.2px;font-weight:normal;font-style:normal;color:#262626;-webkit-text-stroke:0.25px #262626;">$47,50</div>
<div class="t" style="left:711.50px;transform:translateX(-50%) scaleX(0.8950);transform-origin:center;top:385.52px;font-size:11.2px;font-weight:bold;font-style:normal;color:#111;-webkit-text-stroke:0.15px #111;">50,50</div>
<div class="t" style="right:58.70px;transform:scaleX(0.8950);transform-origin:right;top:385.52px;font-size:11.2px;font-weight:bold;font-style:normal;color:#111;-webkit-text-stroke:0.15px #111;">$662,50</div>
<div class="t" style="right:726.80px;transform:scaleX(0.7467);transform-origin:right;top:429.86px;font-size:10.8px;font-weight:normal;font-style:normal;color:#2a2a2a;-webkit-text-stroke:0.25px #2a2a2a;letter-spacing:0.3px;word-spacing:-1px;">Standart Hours</div>
<div class="t" style="right:726.80px;transform:scaleX(0.7745);transform-origin:right;top:449.86px;font-size:10.8px;font-weight:normal;font-style:normal;color:#2a2a2a;-webkit-text-stroke:0.25px #2a2a2a;letter-spacing:0.3px;word-spacing:-1px;">Overtime Hours</div>
<div class="t" style="right:726.80px;transform:scaleX(0.7591);transform-origin:right;top:469.86px;font-size:10.8px;font-weight:normal;font-style:normal;color:#2a2a2a;-webkit-text-stroke:0.25px #2a2a2a;letter-spacing:0.3px;word-spacing:-1px;">Total Hours</div>
<div style="left:130px;top:404px;width:76px;height:81px;background:#fff;box-shadow:0 0 0 1.5px rgba(255,255,255,0.75)"></div>
<div style="left:130px;top:404px;width:76px;height:21px;background:#01626d"></div>
<div style="left:130px;top:425px;width:76px;height:60px;background:#fff;border:1px solid #6aa9ae;border-top:0;box-sizing:border-box"></div>
<div style="left:131px;top:444px;width:74px;height:1px;background:#dcdcdc"></div>
<div style="left:131px;top:464px;width:74px;height:1px;background:#dcdcdc"></div>
<div class="t" style="left:168.00px;transform:translateX(-50%) scaleX(0.8900);transform-origin:center;top:409.52px;font-size:11.2px;font-weight:bold;font-style:normal;color:#fff;-webkit-text-stroke:0.15px #fff;">18</div>
<div class="t" style="left:168.00px;transform:translateX(-50%) scaleX(0.8800);transform-origin:center;top:429.52px;font-size:11.2px;font-weight:normal;font-style:normal;color:#262626;-webkit-text-stroke:0.25px #262626;">7,00</div>
<div class="t" style="left:168.00px;transform:translateX(-50%) scaleX(0.8800);transform-origin:center;top:449.52px;font-size:11.2px;font-weight:normal;font-style:normal;color:#262626;-webkit-text-stroke:0.25px #262626;">2,00</div>
<div class="t" style="left:168.00px;transform:translateX(-50%) scaleX(0.8950);transform-origin:center;top:469.52px;font-size:11.2px;font-weight:bold;font-style:normal;color:#111;-webkit-text-stroke:0.15px #111;">9,00</div>
<div style="left:210px;top:404px;width:76px;height:81px;background:#fff;box-shadow:0 0 0 1.5px rgba(255,255,255,0.75)"></div>
<div style="left:210px;top:404px;width:76px;height:21px;background:#01626d"></div>
<div style="left:210px;top:425px;width:76px;height:60px;background:#fff;border:1px solid #6aa9ae;border-top:0;box-sizing:border-box"></div>
<div style="left:211px;top:444px;width:74px;height:1px;background:#dcdcdc"></div>
<div style="left:211px;top:464px;width:74px;height:1px;background:#dcdcdc"></div>
<div class="t" style="left:248.00px;transform:translateX(-50%) scaleX(0.8900);transform-origin:center;top:409.52px;font-size:11.2px;font-weight:bold;font-style:normal;color:#fff;-webkit-text-stroke:0.15px #fff;">19</div>
<div class="t" style="left:248.00px;transform:translateX(-50%) scaleX(0.8800);transform-origin:center;top:429.52px;font-size:11.2px;font-weight:normal;font-style:normal;color:#262626;-webkit-text-stroke:0.25px #262626;">5,00</div>
<div class="t" style="left:248.00px;transform:translateX(-50%) scaleX(0.8800);transform-origin:center;top:449.52px;font-size:11.2px;font-weight:normal;font-style:normal;color:#262626;-webkit-text-stroke:0.25px #262626;">1,00</div>
<div class="t" style="left:248.00px;transform:translateX(-50%) scaleX(0.8950);transform-origin:center;top:469.52px;font-size:11.2px;font-weight:bold;font-style:normal;color:#111;-webkit-text-stroke:0.15px #111;">6,00</div>
<div style="left:290px;top:404px;width:76px;height:81px;background:#fff;box-shadow:0 0 0 1.5px rgba(255,255,255,0.75)"></div>
<div style="left:290px;top:404px;width:76px;height:21px;background:#01626d"></div>
<div style="left:290px;top:425px;width:76px;height:60px;background:#fff;border:1px solid #6aa9ae;border-top:0;box-sizing:border-box"></div>
<div style="left:291px;top:444px;width:74px;height:1px;background:#dcdcdc"></div>
<div style="left:291px;top:464px;width:74px;height:1px;background:#dcdcdc"></div>
<div class="t" style="left:328.00px;transform:translateX(-50%) scaleX(0.8900);transform-origin:center;top:409.52px;font-size:11.2px;font-weight:bold;font-style:normal;color:#fff;-webkit-text-stroke:0.15px #fff;">20</div>
<div class="t" style="left:328.00px;transform:translateX(-50%) scaleX(0.8800);transform-origin:center;top:429.52px;font-size:11.2px;font-weight:normal;font-style:normal;color:#262626;-webkit-text-stroke:0.25px #262626;">6,00</div>
<div class="t" style="left:328.00px;transform:translateX(-50%) scaleX(0.8800);transform-origin:center;top:449.52px;font-size:11.2px;font-weight:normal;font-style:normal;color:#262626;-webkit-text-stroke:0.25px #262626;">1,50</div>
<div class="t" style="left:328.00px;transform:translateX(-50%) scaleX(0.8950);transform-origin:center;top:469.52px;font-size:11.2px;font-weight:bold;font-style:normal;color:#111;-webkit-text-stroke:0.15px #111;">7,50</div>
<div style="left:370px;top:404px;width:76px;height:81px;background:#fff;box-shadow:0 0 0 1.5px rgba(255,255,255,0.75)"></div>
<div style="left:370px;top:404px;width:76px;height:21px;background:#01626d"></div>
<div style="left:370px;top:425px;width:76px;height:60px;background:#fff;border:1px solid #6aa9ae;border-top:0;box-sizing:border-box"></div>
<div style="left:371px;top:444px;width:74px;height:1px;background:#dcdcdc"></div>
<div style="left:371px;top:464px;width:74px;height:1px;background:#dcdcdc"></div>
<div class="t" style="left:408.00px;transform:translateX(-50%) scaleX(0.8900);transform-origin:center;top:409.52px;font-size:11.2px;font-weight:bold;font-style:normal;color:#fff;-webkit-text-stroke:0.15px #fff;">21</div>
<div class="t" style="left:408.00px;transform:translateX(-50%) scaleX(0.8800);transform-origin:center;top:429.52px;font-size:11.2px;font-weight:normal;font-style:normal;color:#262626;-webkit-text-stroke:0.25px #262626;">7,00</div>
<div class="t" style="left:408.00px;transform:translateX(-50%) scaleX(0.8800);transform-origin:center;top:449.52px;font-size:11.2px;font-weight:normal;font-style:normal;color:#262626;-webkit-text-stroke:0.25px #262626;">1,00</div>
<div class="t" style="left:408.00px;transform:translateX(-50%) scaleX(0.8950);transform-origin:center;top:469.52px;font-size:11.2px;font-weight:bold;font-style:normal;color:#111;-webkit-text-stroke:0.15px #111;">8,00</div>
<div style="left:450px;top:404px;width:76px;height:81px;background:#fff;box-shadow:0 0 0 1.5px rgba(255,255,255,0.75)"></div>
<div style="left:450px;top:404px;width:76px;height:21px;background:#01626d"></div>
<div style="left:450px;top:425px;width:76px;height:60px;background:#fff;border:1px solid #6aa9ae;border-top:0;box-sizing:border-box"></div>
<div style="left:451px;top:444px;width:74px;height:1px;background:#dcdcdc"></div>
<div style="left:451px;top:464px;width:74px;height:1px;background:#dcdcdc"></div>
<div class="t" style="left:488.00px;transform:translateX(-50%) scaleX(0.8900);transform-origin:center;top:409.52px;font-size:11.2px;font-weight:bold;font-style:normal;color:#fff;-webkit-text-stroke:0.15px #fff;">22</div>
<div class="t" style="left:488.00px;transform:translateX(-50%) scaleX(0.8800);transform-origin:center;top:429.52px;font-size:11.2px;font-weight:normal;font-style:normal;color:#262626;-webkit-text-stroke:0.25px #262626;">5,50</div>
<div class="t" style="left:488.00px;transform:translateX(-50%) scaleX(0.8800);transform-origin:center;top:449.52px;font-size:11.2px;font-weight:normal;font-style:normal;color:#262626;-webkit-text-stroke:0.25px #262626;">1,00</div>
<div class="t" style="left:488.00px;transform:translateX(-50%) scaleX(0.8950);transform-origin:center;top:469.52px;font-size:11.2px;font-weight:bold;font-style:normal;color:#111;-webkit-text-stroke:0.15px #111;">6,50</div>
<div style="left:530px;top:404px;width:76px;height:81px;background:#fff;box-shadow:0 0 0 1.5px rgba(255,255,255,0.75)"></div>
<div style="left:530px;top:404px;width:76px;height:21px;background:#01626d"></div>
<div style="left:530px;top:425px;width:76px;height:60px;background:#fff;border:1px solid #6aa9ae;border-top:0;box-sizing:border-box"></div>
<div style="left:531px;top:444px;width:74px;height:1px;background:#dcdcdc"></div>
<div style="left:531px;top:464px;width:74px;height:1px;background:#dcdcdc"></div>
<div class="t" style="left:568.00px;transform:translateX(-50%) scaleX(0.8900);transform-origin:center;top:409.52px;font-size:11.2px;font-weight:bold;font-style:normal;color:#fff;-webkit-text-stroke:0.15px #fff;">23</div>
<div class="t" style="left:568.00px;transform:translateX(-50%) scaleX(0.8800);transform-origin:center;top:429.52px;font-size:11.2px;font-weight:normal;font-style:normal;color:#262626;-webkit-text-stroke:0.25px #262626;">6,00</div>
<div class="t" style="left:568.00px;transform:translateX(-50%) scaleX(0.8800);transform-origin:center;top:449.52px;font-size:11.2px;font-weight:normal;font-style:normal;color:#262626;-webkit-text-stroke:0.25px #262626;">1,50</div>
<div class="t" style="left:568.00px;transform:translateX(-50%) scaleX(0.8950);transform-origin:center;top:469.52px;font-size:11.2px;font-weight:bold;font-style:normal;color:#111;-webkit-text-stroke:0.15px #111;">7,50</div>
<div style="left:610px;top:404px;width:76px;height:81px;background:#fff;box-shadow:0 0 0 1.5px rgba(255,255,255,0.75)"></div>
<div style="left:610px;top:404px;width:76px;height:21px;background:#01626d"></div>
<div style="left:610px;top:425px;width:76px;height:60px;background:#fff;border:1px solid #6aa9ae;border-top:0;box-sizing:border-box"></div>
<div style="left:611px;top:444px;width:74px;height:1px;background:#dcdcdc"></div>
<div style="left:611px;top:464px;width:74px;height:1px;background:#dcdcdc"></div>
<div class="t" style="left:648.00px;transform:translateX(-50%) scaleX(0.8900);transform-origin:center;top:409.52px;font-size:11.2px;font-weight:bold;font-style:normal;color:#fff;-webkit-text-stroke:0.15px #fff;">24</div>
<div class="t" style="left:648.00px;transform:translateX(-50%) scaleX(0.8800);transform-origin:center;top:429.52px;font-size:11.2px;font-weight:normal;font-style:normal;color:#262626;-webkit-text-stroke:0.25px #262626;">6,00</div>
<div class="t" style="left:648.00px;transform:translateX(-50%) scaleX(0.8800);transform-origin:center;top:449.52px;font-size:11.2px;font-weight:normal;font-style:normal;color:#262626;-webkit-text-stroke:0.25px #262626;">1,50</div>
<div class="t" style="left:648.00px;transform:translateX(-50%) scaleX(0.8950);transform-origin:center;top:469.52px;font-size:11.2px;font-weight:bold;font-style:normal;color:#111;-webkit-text-stroke:0.15px #111;">7,50</div>
<div style="left:690px;top:404px;width:103px;height:21px;background:#ffb200"></div>
<div style="left:690px;top:425px;width:103px;height:60px;background:#fff;border:1px solid #ffcf4a;border-top:0;box-sizing:border-box"></div>
<div style="left:691px;top:444px;width:101px;height:1px;background:#dcdcdc"></div>
<div style="left:691px;top:464px;width:101px;height:1px;background:#dcdcdc"></div>
<div style="left:732px;top:425px;width:1px;height:60px;background:#dcdcdc"></div>
<div class="t" style="left:741.70px;transform:translateX(-50%) scaleX(0.8152);transform-origin:center;top:408.82px;font-size:11.2px;font-weight:bold;font-style:normal;color:#fff;-webkit-text-stroke:0.15px #fff;letter-spacing:0.3px;">Week - 4</div>
<div class="t" style="left:711.50px;transform:translateX(-50%) scaleX(0.8800);transform-origin:center;top:429.52px;font-size:11.2px;font-weight:normal;font-style:normal;color:#262626;-webkit-text-stroke:0.25px #262626;">42,50</div>
<div class="t" style="right:58.70px;transform:scaleX(0.8800);transform-origin:right;top:429.52px;font-size:11.2px;font-weight:normal;font-style:normal;color:#262626;-webkit-text-stroke:0.25px #262626;">$637,50</div>
<div class="t" style="left:711.50px;transform:translateX(-50%) scaleX(0.8800);transform-origin:center;top:449.52px;font-size:11.2px;font-weight:normal;font-style:normal;color:#262626;-webkit-text-stroke:0.25px #262626;">9,50</div>
<div class="t" style="right:58.70px;transform:scaleX(0.8800);transform-origin:right;top:449.52px;font-size:11.2px;font-weight:normal;font-style:normal;color:#262626;-webkit-text-stroke:0.25px #262626;">$47,50</div>
<div class="t" style="left:711.50px;transform:translateX(-50%) scaleX(0.8950);transform-origin:center;top:469.52px;font-size:11.2px;font-weight:bold;font-style:normal;color:#111;-webkit-text-stroke:0.15px #111;">52,00</div>
<div class="t" style="right:58.70px;transform:scaleX(0.8950);transform-origin:right;top:469.52px;font-size:11.2px;font-weight:bold;font-style:normal;color:#111;-webkit-text-stroke:0.15px #111;">$685,00</div>
<div class="t" style="right:726.80px;transform:scaleX(0.7467);transform-origin:right;top:514.86px;font-size:10.8px;font-weight:normal;font-style:normal;color:#2a2a2a;-webkit-text-stroke:0.25px #2a2a2a;letter-spacing:0.3px;word-spacing:-1px;">Standart Hours</div>
<div class="t" style="right:726.80px;transform:scaleX(0.7745);transform-origin:right;top:534.86px;font-size:10.8px;font-weight:normal;font-style:normal;color:#2a2a2a;-webkit-text-stroke:0.25px #2a2a2a;letter-spacing:0.3px;word-spacing:-1px;">Overtime Hours</div>
<div class="t" style="right:726.80px;transform:scaleX(0.7591);transform-origin:right;top:554.86px;font-size:10.8px;font-weight:normal;font-style:normal;color:#2a2a2a;-webkit-text-stroke:0.25px #2a2a2a;letter-spacing:0.3px;word-spacing:-1px;">Total Hours</div>
<div style="left:130px;top:489px;width:76px;height:81px;background:#fff;box-shadow:0 0 0 1.5px rgba(255,255,255,0.75)"></div>
<div style="left:130px;top:489px;width:76px;height:21px;background:#01626d"></div>
<div style="left:130px;top:510px;width:76px;height:60px;background:#fff;border:1px solid #6aa9ae;border-top:0;box-sizing:border-box"></div>
<div style="left:131px;top:529px;width:74px;height:1px;background:#dcdcdc"></div>
<div style="left:131px;top:549px;width:74px;height:1px;background:#dcdcdc"></div>
<div class="t" style="left:168.00px;transform:translateX(-50%) scaleX(0.8900);transform-origin:center;top:494.52px;font-size:11.2px;font-weight:bold;font-style:normal;color:#fff;-webkit-text-stroke:0.15px #fff;">25</div>
<div class="t" style="left:168.00px;transform:translateX(-50%) scaleX(0.8800);transform-origin:center;top:514.52px;font-size:11.2px;font-weight:normal;font-style:normal;color:#262626;-webkit-text-stroke:0.25px #262626;">7,00</div>
<div style="left:210px;top:489px;width:76px;height:81px;background:#fff;box-shadow:0 0 0 1.5px rgba(255,255,255,0.75)"></div>
<div style="left:210px;top:489px;width:76px;height:21px;background:#01626d"></div>
<div style="left:210px;top:510px;width:76px;height:60px;background:#fff;border:1px solid #6aa9ae;border-top:0;box-sizing:border-box"></div>
<div style="left:211px;top:529px;width:74px;height:1px;background:#dcdcdc"></div>
<div style="left:211px;top:549px;width:74px;height:1px;background:#dcdcdc"></div>
<div class="t" style="left:248.00px;transform:translateX(-50%) scaleX(0.8900);transform-origin:center;top:494.52px;font-size:11.2px;font-weight:bold;font-style:normal;color:#fff;-webkit-text-stroke:0.15px #fff;">26</div>
<div class="t" style="left:248.00px;transform:translateX(-50%) scaleX(0.8800);transform-origin:center;top:514.52px;font-size:11.2px;font-weight:normal;font-style:normal;color:#262626;-webkit-text-stroke:0.25px #262626;">5,00</div>
<div style="left:290px;top:489px;width:76px;height:81px;background:#fff;box-shadow:0 0 0 1.5px rgba(255,255,255,0.75)"></div>
<div style="left:290px;top:489px;width:76px;height:21px;background:#01626d"></div>
<div style="left:290px;top:510px;width:76px;height:60px;background:#fff;border:1px solid #6aa9ae;border-top:0;box-sizing:border-box"></div>
<div style="left:291px;top:529px;width:74px;height:1px;background:#dcdcdc"></div>
<div style="left:291px;top:549px;width:74px;height:1px;background:#dcdcdc"></div>
<div class="t" style="left:328.00px;transform:translateX(-50%) scaleX(0.8900);transform-origin:center;top:494.52px;font-size:11.2px;font-weight:bold;font-style:normal;color:#fff;-webkit-text-stroke:0.15px #fff;">27</div>
<div class="t" style="left:328.00px;transform:translateX(-50%) scaleX(0.8800);transform-origin:center;top:514.52px;font-size:11.2px;font-weight:normal;font-style:normal;color:#262626;-webkit-text-stroke:0.25px #262626;">6,50</div>
<div style="left:370px;top:489px;width:76px;height:81px;background:#fff;box-shadow:0 0 0 1.5px rgba(255,255,255,0.75)"></div>
<div style="left:370px;top:489px;width:76px;height:21px;background:#01626d"></div>
<div style="left:370px;top:510px;width:76px;height:60px;background:#fff;border:1px solid #6aa9ae;border-top:0;box-sizing:border-box"></div>
<div style="left:371px;top:529px;width:74px;height:1px;background:#dcdcdc"></div>
<div style="left:371px;top:549px;width:74px;height:1px;background:#dcdcdc"></div>
<div class="t" style="left:408.00px;transform:translateX(-50%) scaleX(0.8900);transform-origin:center;top:494.52px;font-size:11.2px;font-weight:bold;font-style:normal;color:#fff;-webkit-text-stroke:0.15px #fff;">28</div>
<div class="t" style="left:408.00px;transform:translateX(-50%) scaleX(0.8800);transform-origin:center;top:514.52px;font-size:11.2px;font-weight:normal;font-style:normal;color:#262626;-webkit-text-stroke:0.25px #262626;">7,00</div>
<div style="left:450px;top:489px;width:76px;height:81px;background:#fff;box-shadow:0 0 0 1.5px rgba(255,255,255,0.75)"></div>
<div style="left:450px;top:489px;width:76px;height:21px;background:#01626d"></div>
<div style="left:450px;top:510px;width:76px;height:60px;background:#fff;border:1px solid #6aa9ae;border-top:0;box-sizing:border-box"></div>
<div style="left:451px;top:529px;width:74px;height:1px;background:#dcdcdc"></div>
<div style="left:451px;top:549px;width:74px;height:1px;background:#dcdcdc"></div>
<div class="t" style="left:488.00px;transform:translateX(-50%) scaleX(0.8900);transform-origin:center;top:494.52px;font-size:11.2px;font-weight:bold;font-style:normal;color:#fff;-webkit-text-stroke:0.15px #fff;">29</div>
<div class="t" style="left:488.00px;transform:translateX(-50%) scaleX(0.8800);transform-origin:center;top:514.52px;font-size:11.2px;font-weight:normal;font-style:normal;color:#262626;-webkit-text-stroke:0.25px #262626;">8,50</div>
<div style="left:530px;top:489px;width:76px;height:81px;background:#fff;box-shadow:0 0 0 1.5px rgba(255,255,255,0.75)"></div>
<div style="left:530px;top:489px;width:76px;height:21px;background:#01626d"></div>
<div style="left:530px;top:510px;width:76px;height:60px;background:#fff;border:1px solid #6aa9ae;border-top:0;box-sizing:border-box"></div>
<div style="left:531px;top:529px;width:74px;height:1px;background:#dcdcdc"></div>
<div style="left:531px;top:549px;width:74px;height:1px;background:#dcdcdc"></div>
<div class="t" style="left:568.00px;transform:translateX(-50%) scaleX(0.8900);transform-origin:center;top:494.52px;font-size:11.2px;font-weight:bold;font-style:normal;color:#fff;-webkit-text-stroke:0.15px #fff;">30</div>
<div class="t" style="left:568.00px;transform:translateX(-50%) scaleX(0.8800);transform-origin:center;top:514.52px;font-size:11.2px;font-weight:normal;font-style:normal;color:#262626;-webkit-text-stroke:0.25px #262626;">8,50</div>
<div style="left:690px;top:489px;width:103px;height:21px;background:#ffb200"></div>
<div style="left:690px;top:510px;width:103px;height:60px;background:#fff;border:1px solid #ffcf4a;border-top:0;box-sizing:border-box"></div>
<div style="left:691px;top:529px;width:101px;height:1px;background:#dcdcdc"></div>
<div style="left:691px;top:549px;width:101px;height:1px;background:#dcdcdc"></div>
<div style="left:732px;top:510px;width:1px;height:60px;background:#dcdcdc"></div>
<div class="t" style="left:741.70px;transform:translateX(-50%) scaleX(0.8152);transform-origin:center;top:493.82px;font-size:11.2px;font-weight:bold;font-style:normal;color:#fff;-webkit-text-stroke:0.15px #fff;letter-spacing:0.3px;">Week - 5</div>
<div class="t" style="left:711.50px;transform:translateX(-50%) scaleX(0.8800);transform-origin:center;top:514.52px;font-size:11.2px;font-weight:normal;font-style:normal;color:#262626;-webkit-text-stroke:0.25px #262626;">42,50</div>
<div class="t" style="right:58.70px;transform:scaleX(0.8800);transform-origin:right;top:514.52px;font-size:11.2px;font-weight:normal;font-style:normal;color:#262626;-webkit-text-stroke:0.25px #262626;">$637,50</div>
<div style="left:3px;top:141px;width:845px;height:1px;background:#c4c4c4"></div>
<div style="left:0px;top:0px;width:849px;height:1px;background:#111"></div>
<div style="left:0px;top:1px;width:849px;height:1px;background:#fff"></div>
<div style="left:847px;top:0px;width:1px;height:524px;background:#e6e6e6"></div>
<div style="left:848px;top:0px;width:1px;height:524px;background:#111"></div>
<div style="left:0px;top:520px;width:849px;height:1px;background:#fff"></div>
<div style="left:0px;top:521px;width:849px;height:1px;background:#111"></div>
<div style="left:0;top:522px;width:849px;height:1px;background:repeating-linear-gradient(90deg,#fff 0 2px,#666 2px 5px,#fff 5px 6px)"></div>
<div style="left:0px;top:523px;width:849px;height:1px;background:#e8e8e8"></div>
<div style="left:0;top:0;width:1px;height:524px;background:repeating-linear-gradient(180deg,#b4b4b4 0 3px,#000 3px 5px,#b4b4b4 5px 6px)"></div>
<div style="left:1px;top:1px;width:1px;height:523px;background:#8c8c8c"></div>
<div style="left:2px;top:2px;width:1px;height:519px;background:#fff"></div>
</body></html>
